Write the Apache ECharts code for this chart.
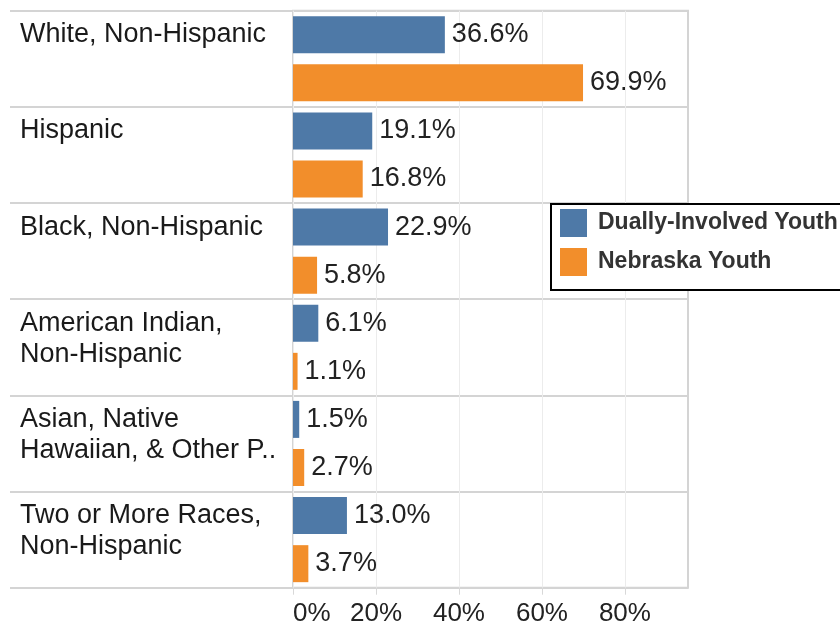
<!DOCTYPE html>
<html>
<head>
<meta charset="utf-8">
<script src="https://cdn.jsdelivr.net/npm/echarts@6/dist/echarts.min.js"></script>
<style>
  html, body { margin: 0; padding: 0; background: #fff; }
  #chart { width: 840px; height: 623px; }
</style>
</head>
<body>
<div id="chart"></div>
<script>
// Race / ethnicity groups (top to bottom)
const categories = [
  'White, Non-Hispanic',
  'Hispanic',
  'Black, Non-Hispanic',
  'American Indian,\nNon-Hispanic',
  'Asian, Native\nHawaiian, & Other P..',
  'Two or More Races,\nNon-Hispanic'
];
const seriesNames = ['Dually-Involved Youth', 'Nebraska Youth'];
const duallyInvolved = [36.6, 19.1, 22.9, 6.1, 1.5, 13.0];
const nebraskaYouth = [69.9, 16.8, 5.8, 1.1, 2.7, 3.7];
const xTicks = [0, 20, 40, 60, 80];

const FONT = '"Liberation Sans", Arial, sans-serif';
const BORDER = '#d4d4d4';

const chart = echarts.init(document.getElementById('chart'), null, { renderer: 'canvas' });

const valueLabel = {
  show: true,
  position: 'right',
  distance: 7,
  fontFamily: FONT,
  fontSize: 27,
  color: '#222',
  formatter: p => p.value.toFixed(1) + '%'
};

// Category names are top-aligned in their row: every name is laid out as two
// text lines plus a small spacer line, so the first line sits beside the first bar.
function categoryLabel(v) {
  const lines = v.split('\n');
  if (lines.length < 2) lines.push(' ');
  return lines.map(l => '{t|' + l + '}').join('\n') + '\n{s| }';
}

chart.setOption({
  animation: false,
  backgroundColor: '#fff',
  grid: {
    left: 293, top: 10.7, width: 395, height: 577,
    outerBoundsMode: 'none',
    show: true, borderColor: BORDER, borderWidth: 2, containLabel: false
  },
  legend: {
    data: seriesNames,
    orient: 'vertical',
    left: 551, top: 204,
    padding: [5, 20, 14, 9],
    itemWidth: 27, itemHeight: 28, itemGap: 11,
    icon: 'rect',
    borderColor: '#000', borderWidth: 2,
    backgroundColor: '#fff',
    textStyle: {
      fontFamily: FONT, fontSize: 23, fontWeight: 'bold', color: '#333',
      lineHeight: 23, padding: [5, 0, 0, 6]
    }
  },
  xAxis: {
    type: 'value',
    min: 0, max: 95.2,
    axisLine: { show: false },
    axisTick: { show: true, customValues: xTicks, length: 7, lineStyle: { color: '#d8d8d8', width: 1 } },
    splitLine: { show: true, lineStyle: { color: '#ececec', width: 1 } },
    axisLabel: {
      customValues: xTicks,
      margin: 13,
      fontFamily: FONT, fontSize: 26, color: '#222',
      alignMinLabel: 'left',
      formatter: v => v + '%'
    }
  },
  yAxis: {
    type: 'category',
    inverse: true,
    data: categories,
    axisLine: { show: false },
    axisTick: { show: true, length: 283, lineStyle: { color: BORDER, width: 2 } },
    splitLine: { show: true, lineStyle: { color: BORDER, width: 2 } },
    axisLabel: {
      interval: 0,
      margin: 273,
      align: 'left',
      verticalAlign: 'middle',
      formatter: categoryLabel,
      rich: {
        t: { fontFamily: FONT, fontSize: 27, lineHeight: 31, color: '#1a1a1a', align: 'left' },
        s: { fontFamily: FONT, fontSize: 1, lineHeight: 17 }
      }
    }
  },
  series: [
    {
      name: seriesNames[0], type: 'bar', data: duallyInvolved,
      barWidth: 37, barGap: '30%',
      itemStyle: { color: '#4e79a7' },
      label: valueLabel
    },
    {
      name: seriesNames[1], type: 'bar', data: nebraskaYouth,
      barWidth: 37, barGap: '30%',
      itemStyle: { color: '#f28e2b' },
      label: valueLabel
    }
  ]
});
</script>
</body>
</html>
